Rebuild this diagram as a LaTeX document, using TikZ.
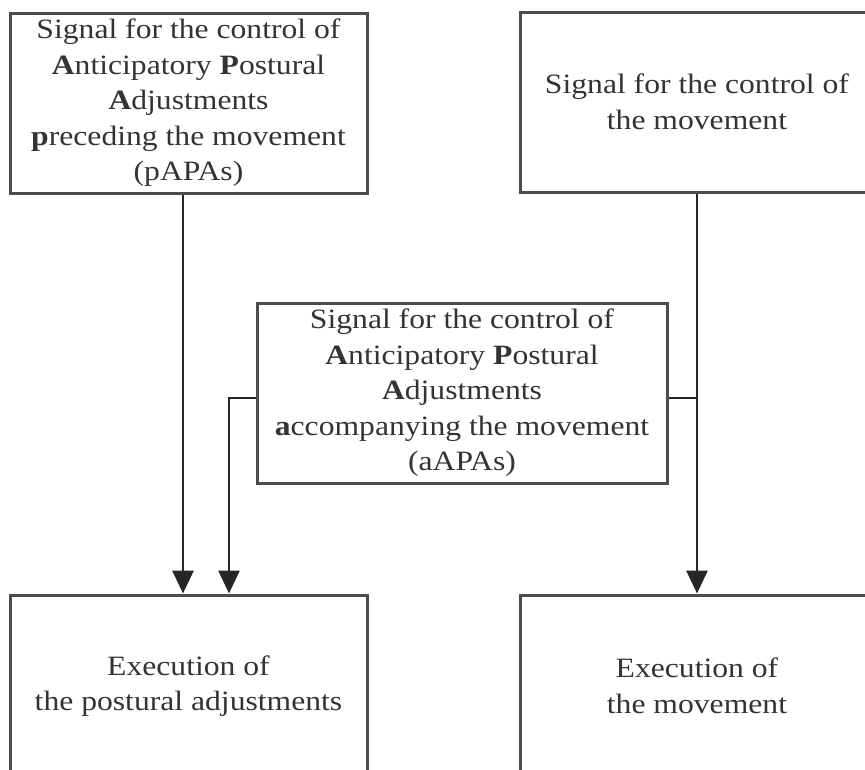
\documentclass[tikz,border=0pt]{standalone}
\usepackage{fontspec}
\setmainfont{Liberation Serif}[FakeStretch=1.13]
\usetikzlibrary{arrows.meta}
\tikzset{
  blockbox/.style={draw=black!70, line width=3pt, align=center, inner sep=0pt,
    font=\fontsize{28}{35.5}\selectfont, text=black!80},
  flowline/.style={line width=2.8pt, draw=black!85},
  flowarrow/.style={flowline, -{Triangle[width=21pt,length=23pt]}}
}
\begin{document}
\begin{tikzpicture}[x=1pt,y=-1pt]
            \useasboundingbox (0,0) rectangle (865,769);
            
            % Signal box for pAPAs
            \node [blockbox, minimum width=357pt, minimum height=180pt] (papa) at (188.5,103)
              {Signal for the control of\\ \textbf{A}nticipatory \textbf{P}ostural\\ \textbf{A}djustments\\ \textbf{p}receding the movement\\ (pAPAs)};%
            
            % Signal box for the movement
            \node [blockbox, minimum width=354pt, minimum height=180pt] (move) at (697,102)
              {Signal for the control of\\ the movement};%
            
            % Signal box for aAPAs
            \node [blockbox, minimum width=410pt, minimum height=180pt] (aapa) at (462,393)
              {Signal for the control of\\ \textbf{A}nticipatory \textbf{P}ostural\\ \textbf{A}djustments\\ \textbf{a}ccompanying the movement\\ (aAPAs)};%
            
            % Execution boxes
            \node [blockbox, minimum width=357pt, minimum height=182pt] (post) at (188.5,686)
              {Execution of\\ the postural adjustments};%
            \node [blockbox, minimum width=354pt, minimum height=182pt] (exmove) at (697,686)
              {Execution of\\ the movement};%
            
            % Arrow pAPAs -> postural adjustments
            \draw [flowarrow] ([xshift=-5.5pt]papa.south) -- ([xshift=-5.5pt]papa.south |- post.north);%
            
            % Arrow aAPAs -> postural adjustments
            \coordinate (bendl) at (229,398);
            \draw [flowarrow] ([yshift=-5pt]aapa.west) -| (bendl |- post.north);%
            
            % Arrow movement signal -> movement, joined by aAPAs
            \draw [flowarrow] (move.south) -- (exmove.north);%
            \draw [flowline] ([yshift=-5pt]aapa.east) -- ([yshift=-5pt]aapa.east -| move.south);%
        \end{tikzpicture}
\end{document}
